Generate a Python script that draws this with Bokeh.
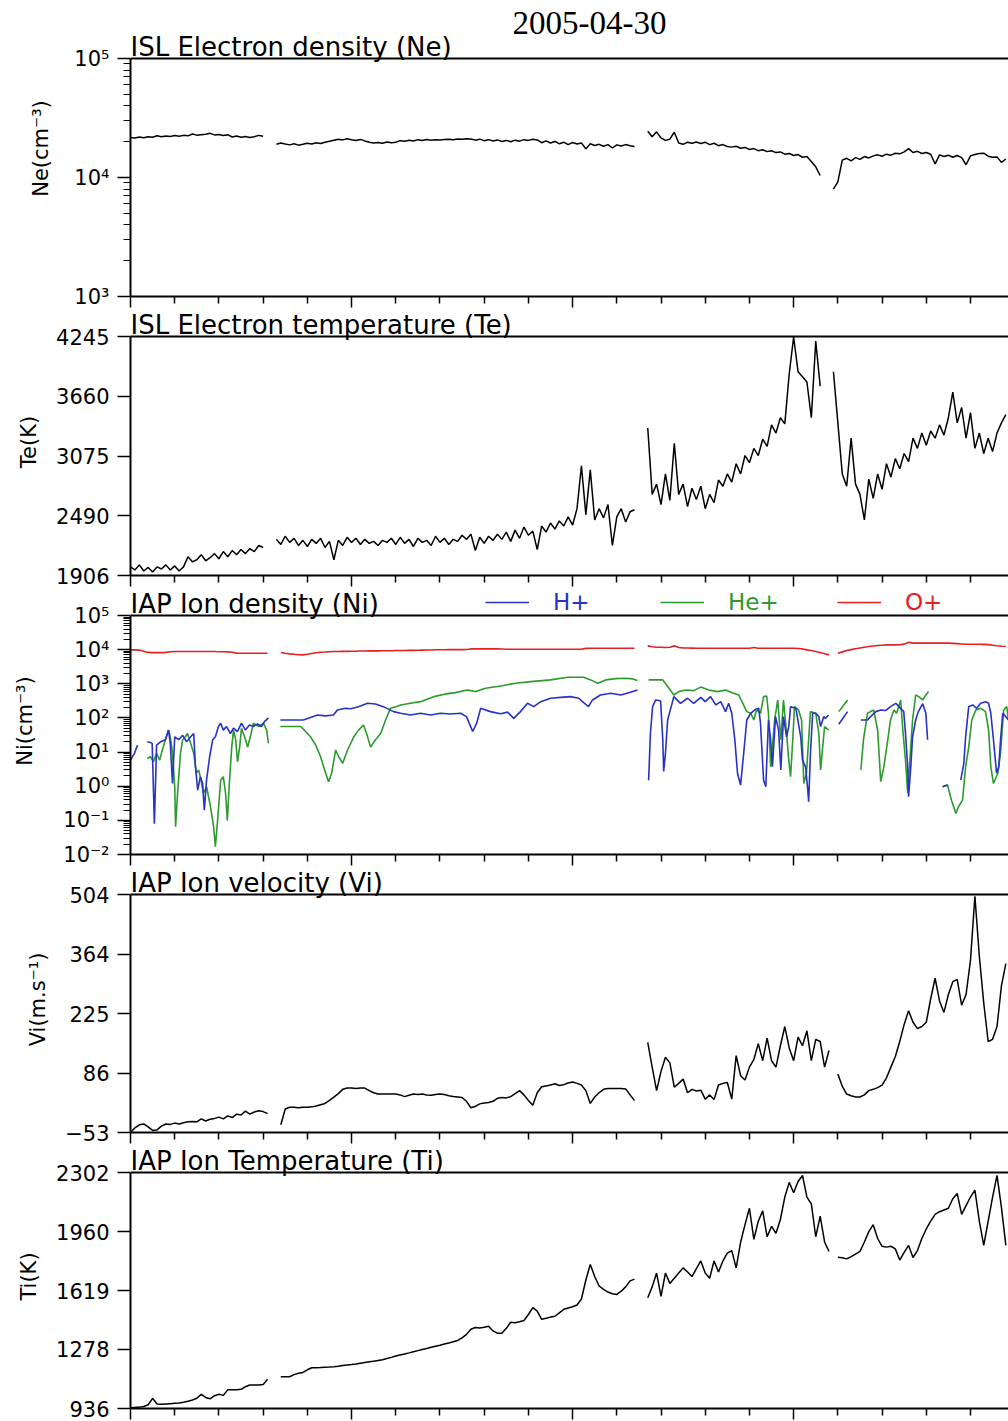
import math
from bokeh.plotting import figure
from bokeh.models import Range1d, FixedTicker, Label, Legend, LegendItem, Span
from bokeh.layouts import column
from bokeh.embed import file_html
from bokeh.resources import INLINE

# ---------------- x axis ----------------
X_END = 19.86
X_MAJOR = [0, 5, 10, 15]
X_MINOR = [1, 2, 3, 4, 6, 7, 8, 9, 11, 12, 13, 14, 16, 17, 18, 19]
GRID_STEP = 0.1

# ---------------- Ne (cm^-3), sampled every 0.1 from each start ----------------
ne_starts = [0.0, 3.3, 11.7, 15.9]
ne_seg1 = [21700, 21500, 21900, 21600, 22000, 21800, 22400, 22000, 22300, 22100,
           22500, 22200, 22600, 22400, 23200, 22700, 22900, 23100, 23500, 22800,
           23000, 22500, 22900, 21900, 22300, 21800, 22100, 21700, 22000, 22600, 22200]
ne_seg2 = [19000, 19500, 19100, 18800, 19200, 18700, 19000, 19400, 19100, 19600,
           19300, 19800, 20200, 20600, 21000, 20700, 21200, 20800, 20500, 20900,
           20300, 19800, 19500, 19700, 19400, 19900, 19600, 19800, 20400, 20200,
           20600, 20300, 20800, 20500, 20900, 20600, 20800, 20700, 20900, 21000,
           20800, 21100, 21000, 21200, 21100, 20600, 21000, 20400, 20800, 20300,
           20700, 20100, 20500, 20000, 20600, 20200, 20800, 20500, 21000, 20700,
           19600, 20300, 19500, 20100, 19200, 19800, 18900, 19700, 19100, 19500,
           17400, 19200, 18600, 19000, 18300, 18900, 17700, 18800, 18400, 18900,
           18500, 18200]
ne_seg3 = [24500, 22000, 24200, 21500, 20500, 21000, 24000, 19500, 19000, 19800,
           19400, 19900, 19300, 19800, 18900, 19400, 18500, 18900, 18200, 18000,
           18300, 17600, 17900, 17200, 17500, 16800, 17100, 16500, 16800, 16200,
           16400, 15700, 15900, 15300, 15600, 14800, 15000, 13600, 12300, 10400]
ne_seg4 = [8000, 9200, 14000, 14500, 13800, 14700, 14200, 15000, 14600, 15200,
           15500, 15100, 15700, 15400, 16000, 15800, 16400, 17500, 16200, 16600,
           15900, 16200, 15700, 13000, 15500, 15000, 15400, 14800, 15300, 14700,
           12800, 15200, 15600, 15900, 16000, 15100, 14800, 14900, 13400, 14300]

# ---------------- Te (K) ----------------
te_starts = [0.0, 3.3, 11.7, 15.9]
te_seg1 = [1990, 1960, 2010, 1950, 1985, 1940, 1990, 1970, 2010, 1960,
           2000, 1950, 1990, 2090, 2040, 2060, 2110, 2050, 2080, 2120,
           2070, 2140, 2090, 2150, 2110, 2160, 2120, 2170, 2140, 2200, 2180]
te_seg2 = [2260, 2210, 2290, 2230, 2270, 2200, 2250, 2190, 2260, 2220,
           2270, 2180, 2240, 2060, 2250, 2200, 2280, 2230, 2270, 2210,
           2260, 2220, 2240, 2200, 2250, 2230, 2270, 2210, 2280, 2220,
           2260, 2190, 2270, 2230, 2250, 2200, 2290, 2230, 2270, 2210,
           2260, 2240, 2300, 2260, 2310, 2150, 2280, 2220, 2290, 2250,
           2310, 2260, 2330, 2240, 2350, 2270, 2380, 2300, 2340, 2160,
           2390, 2330, 2420, 2360, 2440, 2390, 2480, 2400, 2560, 2980,
           2500, 2940, 2450, 2560, 2470, 2600, 2200, 2480, 2560, 2430,
           2530, 2550]
te_seg3 = [3350, 2700, 2800, 2600, 2900, 2640, 3200, 2700, 2800, 2580,
           2760, 2650, 2780, 2560, 2700, 2620, 2840, 2780, 2900, 2820,
           3000, 2900, 3080, 3010, 3150, 3080, 3240, 3170, 3380, 3300,
           3450, 3390, 3880, 4240, 3900, 3850, 3800, 3450, 4200, 3760]
te_seg4 = [3900, 3400, 2900, 2780, 3250, 2800, 2700, 2450, 2850, 2660,
           2900, 2750, 3000, 2870, 3050, 2950, 3100, 3020, 3250, 3150,
           3300, 3180, 3320, 3250, 3380, 3280, 3450, 3700, 3400, 3550,
           3250, 3500, 3150, 3300, 3100, 3250, 3120, 3300, 3400, 3480]

# ---------------- O+ density (cm^-3) ----------------
op_starts = [0.0, 3.4, 11.7, 16.0]
op_seg1 = [9840, 9840, 9700, 9000, 8300, 8200, 8200, 8200, 8300, 8700,
           8800, 8800, 8800, 8800, 8800, 8800, 8800, 8800, 8800, 8800,
           8700, 8700, 8600, 8400, 7900, 7860, 7860, 7860, 7860, 7860, 7860, 7860]
op_seg2 = [8200, 7800, 7500, 7300, 7100, 7030, 7300, 7700, 8100, 8400,
           8500, 8700, 8800, 8800, 8900, 8900, 9000, 9000, 9100, 9100,
           9200, 9200, 9200, 9300, 9300, 9300, 9400, 9400, 9400, 9500,
           9500, 9600, 9700, 9800, 9800, 9900, 9900, 9900, 10000, 10000,
           10000, 10000, 10100, 10500, 10500, 10500, 10500, 10500, 10500, 10500,
           10400, 10300, 10300, 10300, 10300, 10300, 10300, 10300, 10300, 10300,
           10300, 10300, 10300, 10300, 10300, 10300, 10300, 10300, 10300, 10900,
           11000, 11000, 11000, 11000, 11000, 11000, 11000, 11000, 11000, 11000,
           11000]
op_seg3 = [12900, 12200, 11800, 11700, 11500, 11700, 12900, 11500, 11300, 11200,
           11100, 11000, 11000, 11000, 11000, 11000, 11000, 11000, 11000, 11000,
           11000, 11000, 11000, 11000, 11500, 11000, 11000, 11000, 11000, 11000,
           11000, 11000, 11000, 11000, 10800, 10500, 9840, 9400, 8800, 8200,
           7600, 7030]
op_seg4 = [7860, 8600, 9400, 10000, 10600, 11200, 11800, 12300, 12800, 13200,
           13500, 13800, 13800, 13800, 13900, 14500, 16500, 15500, 15500, 15500,
           15500, 15500, 15500, 15500, 15500, 15500, 15300, 15000, 14700, 14400,
           14400, 14400, 14400, 14300, 14000, 13500, 13000, 12600, 12300]

# ---------------- H+ density (x, value); None separates data gaps ----------------
hp_x = [0.0, 0.09, 0.16, None,
        0.38, 0.45, 0.49, 0.54, 0.59, 0.68, 0.79, 0.86, 0.90, 0.95,
        1.0, 1.09, 1.18, 1.27, 1.36, 1.43, 1.47, 1.52, 1.58, 1.63,
        1.67, 1.72, 1.79, 1.86, 1.92, 1.99, 2.04, 2.1, 2.17, 2.26,
        2.33, 2.42, 2.51, 2.6, 2.69, 2.78, 2.87, 2.96, 3.03, 3.12, None,
        3.39, 3.62, 3.91, 4.07, 4.23, 4.41, 4.59, 4.68, 4.86, 4.98,
        5.16, 5.36, 5.54, 5.72, 5.95, 6.11, 6.33, 6.56, 6.79, 7.01,
        7.24, 7.47, 7.6, 7.74, 7.83, 7.92, 8.14, 8.37, 8.53, 8.67,
        8.82, 8.98, 9.12, 9.28, 9.5, 9.73, 9.95, 10.14, 10.25, 10.36,
        10.45, 10.63, 10.86, 11.09, 11.27, 11.47, None,
        11.72, 11.76, 11.81, 11.88, 11.99, 12.04, 12.06, 12.1, 12.15, 12.29,
        12.44, 12.6, 12.74, 12.9, 13.0, 13.12, 13.24, 13.35, 13.46, 13.53,
        13.6, 13.67, 13.73, 13.8, 13.87, 13.94, 14.03, 14.14, 14.21, 14.25,
        14.32, 14.37, 14.43, 14.48, 14.52, 14.59, 14.66, 14.71, 14.77, 14.84,
        14.89, 14.93, 15.05, 15.16, 15.2, 15.27, 15.32, 15.34, 15.38, 15.43,
        15.5, 15.57, 15.61, 15.68, 15.72, 15.79, None,
        16.02, 16.22, None,
        16.52, 16.67, 16.74, 16.86, 16.97, 17.08, 17.19, 17.31, 17.42, 17.49,
        17.53, 17.58, 17.6, 17.65, 17.69, 17.76, 17.82, 17.92, 17.99, 18.03, None,
        18.37, 18.48, None,
        18.78, 18.85, 18.89, 18.96, 19.05, 19.14, 19.23, 19.34, 19.41, 19.46,
        19.52, 19.59, 19.64, 19.68, 19.73, 19.8, 19.86]
hp_v = [5.8, 9.2, 16, None,
        20, 19, 18, 0.08, 16, 20, 23, 44, 18, 1.2,
        28, 23, 31, 20, 28, 35, 3.7, 0.77, 1.9, 1.2,
        0.2, 1.5, 7.3, 23, 28, 56, 70, 44, 56, 35,
        50, 40, 70, 44, 62, 56, 67, 56, 78, 100, None,
        87, 87, 87, 103, 122, 115, 122, 171, 191, 185,
        214, 268, 255, 214, 153, 137, 122, 137, 122, 137,
        130, 137, 109, 40, 70, 191, 153, 132, 148, 97,
        153, 268, 214, 300, 377, 400, 420, 377, 280, 214,
        336, 470, 530, 470, 550, 660, None,
        1.5, 35, 214, 336, 320, 23, 2.7, 9.2, 87, 420,
        268, 377, 268, 400, 300, 420, 240, 300, 153, 268,
        137, 23, 2.4, 1.08, 9.2, 87, 137, 180, 191, 70,
        1.5, 0.97, 87, 23, 3.7, 109, 44, 3.0, 109, 28,
        56, 214, 191, 28, 5.8, 3.7, 0.77, 0.35, 9.2, 137,
        137, 109, 56, 109, 97, 122, None,
        65, 153, None,
        87, 87, 109, 153, 171, 165, 214, 268, 191, 153,
        35, 3.7, 0.49, 3.7, 28, 87, 153, 260, 137, 23, None,
        0.97, 1.08, None,
        1.5, 4.7, 28, 214, 240, 191, 268, 300, 268, 137,
        23, 2.4, 3.7, 23, 137, 109, 87]

# ---------------- He+ density ----------------
hep_x = [0.38, 0.45, 0.52, 0.59, 0.66, 0.72, 0.79, 0.86, 0.9, 0.95,
         1.0, 1.02, 1.06, 1.13, 1.18, 1.24, 1.29, 1.36, 1.43, 1.49,
         1.54, 1.58, 1.65, 1.72, 1.81, 1.88, 1.92, 1.97, 2.04, 2.1,
         2.15, 2.19, 2.24, 2.29, 2.33, 2.38, 2.42, 2.47, 2.51, 2.58,
         2.65, 2.71, 2.78, 2.9, 3.01, 3.08, 3.12, None,
         3.39, 3.62, 3.85, 3.96, 4.07, 4.19, 4.3, 4.39, 4.48, 4.55,
         4.64, 4.71, 4.8, 4.91, 5.05, 5.16, 5.27, 5.34, 5.43, 5.54,
         5.66, 5.77, 5.88, 6.0, 6.11, 6.33, 6.56, 6.86, 7.13, 7.35,
         7.62, 7.81, 8.03, 8.37, 8.71, 9.05, 9.5, 9.89, 10.25, 10.41,
         10.57, 10.75, 10.97, 11.2, 11.36, 11.47, None,
         11.72, 11.88, 12.04, 12.15, 12.29, 12.4, 12.56, 12.74, 12.9, 13.08,
         13.28, 13.46, 13.64, 13.76, 13.85, 13.94, 14.03, 14.1, 14.16, 14.25,
         14.32, 14.39, 14.43, 14.48, 14.52, 14.57, 14.64, 14.71, 14.77, 14.84,
         14.89, 14.93, 14.98, 15.02, 15.11, 15.18, 15.23, 15.29, 15.38, 15.5,
         15.57, 15.61, 15.7, 15.79, None,
         16.02, 16.22, None,
         16.52, 16.58, 16.67, 16.81, 16.9, 16.97, 17.04, 17.13, 17.19, 17.27,
         17.33, 17.42, 17.47, 17.53, 17.58, 17.65, 17.69, 17.76, 17.83, 17.92,
         17.99, 18.05, None,
         18.37, 18.48, 18.57, 18.67, 18.73, 18.82, 18.89, 18.96, 19.03, 19.12,
         19.23, 19.34, 19.41, 19.46, 19.52, 19.62, 19.68, 19.75, 19.82, 19.86]
hep_v = [6.5, 7.3, 5.2, 9.2, 5.8, 11.5, 23, 44, 28, 9.2,
         0.97, 0.065, 0.49, 9.2, 23, 28, 35, 18, 9.2, 2.4,
         3.0, 1.9, 0.62, 0.97, 0.25, 0.065, 0.017, 0.1, 1.5, 1.9,
         0.62, 0.1, 1.5, 14, 44, 23, 5.2, 14, 50, 28,
         14, 28, 70, 56, 70, 44, 18, None,
         56, 56, 56, 40, 28, 16, 7.3, 3.0, 1.36, 2.4,
         11.5, 7.3, 4.7, 11.5, 28, 44, 62, 35, 14, 23,
         35, 87, 191, 214, 240, 268, 300, 420, 505, 550,
         660, 590, 740, 860, 1040, 1160, 1300, 1560, 1560, 1300,
         1040, 1300, 1420, 1450, 1390, 1250, None,
         1300, 1300, 1300, 830, 470, 590, 660, 630, 800, 660,
         590, 660, 530, 470, 268, 153, 137, 87, 171, 137,
         420, 440, 137, 3.7, 14, 87, 336, 23, 336, 35,
         5.8, 1.9, 23, 214, 171, 87, 1.2, 2.4, 153, 137,
         35, 3.0, 56, 44, None,
         153, 336, None,
         3.0, 23, 137, 171, 44, 1.36, 3.7, 23, 87, 171,
         137, 336, 44, 5.8, 0.62, 14, 87, 470, 420, 336,
         470, 590, None,
         0.97, 1.08, 0.39, 0.16, 0.25, 0.39, 3.7, 14, 87, 171,
         191, 153, 44, 3.7, 1.2, 2.4, 9.2, 171, 214, 87]

# ---------------- Vi (m/s) ----------------
vi_starts = [0.0, 3.4, 11.7, 16.0]
vi_seg1 = [-53, -42, -35, -33, -40, -48, -47, -38, -33, -34,
           -31, -33, -30, -28, -27, -28, -21, -26, -22, -20,
           -17, -21, -14, -18, -10, -12, -3, -10, -5, -2, -4, -9]
vi_seg2 = [-35, 2, 6, 6, 5, 6, 6, 7, 9, 12,
           15, 22, 30, 38, 48, 51, 51, 50, 51, 51,
           45, 40, 37, 37, 37, 37, 37, 35, 31, 34,
           37, 36, 37, 35, 34, 36, 37, 36, 33, 31,
           30, 29, 20, 5, 8, 14, 16, 17, 20, 27,
           29, 28, 31, 38, 45, 35, 22, 11, 40, 54,
           56, 58, 61, 57, 59, 63, 65, 62, 58, 45,
           15, 30, 40, 48, 50, 50, 50, 50, 49, 35,
           22]
vi_seg3 = [158, 100, 45, 90, 123, 110, 53, 62, 72, 40,
           48, 44, 46, 25, 35, 24, 58, 62, 64, 25,
           127, 80, 70, 100, 118, 155, 115, 168, 115, 100,
           150, 195, 145, 115, 170, 150, 185, 115, 165, 160,
           100, 139]
vi_seg4 = [84, 55, 37, 33, 30, 30, 35, 45, 48, 52,
           58, 75, 100, 125, 160, 200, 232, 205, 190, 195,
           205, 260, 308, 255, 228, 270, 300, 305, 245, 270,
           350, 500, 360, 250, 160, 165, 195, 290, 342]

# ---------------- Ti (K) ----------------
ti_starts = [0.0, 3.4, 11.7, 16.0]
ti_seg1 = [940, 942, 944, 948, 958, 995, 962, 960, 962, 964,
           966, 968, 972, 978, 985, 995, 1018, 1000, 992, 1010,
           1018, 1012, 1045, 1045, 1045, 1047, 1062, 1072, 1072, 1072, 1075, 1105]
ti_seg2 = [1120, 1120, 1120, 1132, 1140, 1145, 1160, 1172, 1172, 1173,
           1175, 1176, 1178, 1181, 1185, 1188, 1190, 1193, 1198, 1202,
           1206, 1210, 1214, 1218, 1225, 1232, 1240, 1246, 1252, 1258,
           1265, 1271, 1277, 1283, 1290, 1296, 1302, 1309, 1315, 1322,
           1330, 1345, 1365, 1395, 1405, 1402, 1406, 1412, 1385, 1372,
           1372, 1400, 1435, 1432, 1438, 1445, 1480, 1520, 1500, 1452,
           1458, 1465, 1470, 1490, 1510, 1518, 1525, 1535, 1570, 1680,
           1770, 1700, 1645, 1625, 1610, 1600, 1596, 1615, 1640, 1675,
           1685]
ti_seg3 = [1577, 1640, 1720, 1585, 1720, 1660, 1690, 1720, 1750, 1726,
           1700, 1745, 1790, 1720, 1690, 1790, 1726, 1790, 1835, 1850,
           1750, 1898, 2000, 2095, 1915, 2020, 2080, 1930, 1990, 1950,
           2030, 2160, 2245, 2185, 2250, 2285, 2160, 2120, 1930, 2050,
           1900, 1845]
ti_seg4 = [1812, 1808, 1802, 1815, 1830, 1845, 1900, 1960, 2000, 1920,
           1875, 1870, 1875, 1860, 1795, 1840, 1880, 1810, 1850, 1920,
           1975, 2020, 2060, 2075, 2085, 2095, 2150, 2180, 2060, 2110,
           2160, 2200, 2020, 1880, 2020, 2160, 2285, 2100, 1880]

# ---------------- axis ticks / labels ----------------
ne_ticks = [1e3, 1e4, 1e5]
ne_labels = ["10³", "10⁴", "10⁵"]
te_ticks = [1906, 2490, 3075, 3660, 4245]
te_labels = ["1906", "2490", "3075", "3660", "4245"]
ni_ticks = [1e-2, 1e-1, 1e0, 1e1, 1e2, 1e3, 1e4, 1e5]
ni_labels = ["10⁻²", "10⁻¹", "10⁰", "10¹", "10²", "10³", "10⁴", "10⁵"]
vi_ticks = [-53, 86, 225, 364, 504]
vi_labels = ["−53", "86", "225", "364", "504"]
ti_ticks = [936, 1278, 1619, 1960, 2302]
ti_labels = ["936", "1278", "1619", "1960", "2302"]

# ---------------- helpers ----------------
FONT = "DejaVu Sans"
BLACK = "#000000"
C_H = "#2832c8"
C_HE = "#2c9a2c"
C_O = "#e52020"


def grid_segments(starts, segs):
    out = []
    for s, seg in zip(starts, segs):
        xs = [round(s + GRID_STEP * k, 3) for k in range(len(seg))]
        out.append((xs, list(seg)))
    return out


def pair_segments(xs, vs):
    out, cx, cv = [], [], []
    for x, v in zip(xs, vs):
        if x is None or v is None:
            if cx:
                out.append((cx, cv))
            cx, cv = [], []
        else:
            cx.append(x)
            cv.append(v)
    if cx:
        out.append((cx, cv))
    return out


def log_minor(lo_exp, hi_exp):
    return [k * 10.0 ** e for e in range(lo_exp, hi_exp) for k in range(2, 10)]


def make_panel(height, band, extra, bottom, lo, hi, log, ticks, labels, minor,
               ylabel, title, label_standoff=12):
    # frame = data band plus 'extra' pixels above it (room for titles), axis bounded to the band
    if log:
        a, b = math.log10(lo), math.log10(hi)
        end = 10 ** (b + (b - a) * extra / band)
    else:
        end = hi + (hi - lo) * extra / band
    p = figure(width=1008, height=height, x_range=Range1d(0, X_END), y_range=Range1d(lo, end),
               y_axis_type="log" if log else "linear", title=None,
               output_backend="svg", toolbar_location=None,
               min_border_left=130, min_border_right=0,
               min_border_top=0, min_border_bottom=bottom)
    p.outline_line_color = None
    p.xgrid.visible = False
    p.ygrid.visible = False
    p.background_fill_color = "white"
    p.border_fill_color = "white"

    xa = p.xaxis[0]
    xa.ticker = FixedTicker(ticks=X_MAJOR, minor_ticks=X_MINOR)
    xa.major_label_text_font_size = "1px"
    xa.major_label_text_color = None
    xa.major_label_standoff = 0
    xa.major_tick_in = 0
    xa.major_tick_out = 11
    xa.minor_tick_in = 0
    xa.minor_tick_out = 7
    xa.axis_line_width = 2
    xa.major_tick_line_width = 1.5
    xa.minor_tick_line_width = 1.5
    xa.axis_line_color = BLACK

    ya = p.yaxis[0]
    ya.bounds = (lo, hi)
    ya.ticker = FixedTicker(ticks=ticks, minor_ticks=minor)
    ya.major_label_overrides = dict(zip(ticks, labels))
    ya.major_label_text_font = FONT
    ya.major_label_text_font_size = "21px"
    ya.major_label_text_color = BLACK
    ya.major_label_standoff = 8
    ya.major_tick_in = 0
    ya.major_tick_out = 13
    ya.minor_tick_in = 0
    ya.minor_tick_out = 7
    ya.axis_line_width = 2
    ya.major_tick_line_width = 1.5
    ya.minor_tick_line_width = 1.2
    ya.axis_label = ylabel
    ya.axis_label_text_font = FONT
    ya.axis_label_text_font_size = "21px"
    ya.axis_label_text_font_style = "normal"
    ya.axis_label_text_color = BLACK
    ya.axis_label_standoff = label_standoff

    # panel top border
    p.add_layout(Span(location=hi, dimension="width", line_color=BLACK, line_width=2))
    # panel title just above the top border
    p.add_layout(Label(x=0, y=band + 12, x_units="screen", y_units="screen",
                       text=title, text_font=FONT, text_font_size="26px",
                       text_color=BLACK, text_baseline="middle", text_align="left"))
    return p


# ---------------- panel 1: Ne ----------------
p1 = make_panel(308, 238, 58, 12, 1e3, 1e5, True, ne_ticks, ne_labels,
                log_minor(3, 5), "Ne(cm⁻³)", "ISL Electron density (Ne)", label_standoff=18)
for xs, ys in grid_segments(ne_starts, [ne_seg1, ne_seg2, ne_seg3, ne_seg4]):
    p1.line(xs, ys, line_color=BLACK, line_width=1.5)
p1.add_layout(Label(x=382, y=274, x_units="screen", y_units="screen",
                    text="2005-04-30", text_font="Liberation Serif", text_font_size="33px",
                    text_color=BLACK, text_baseline="middle", text_align="left"))

# ---------------- panel 2: Te ----------------
p2 = make_panel(279, 239, 28, 12, 1906, 4245, False, te_ticks, te_labels,
                [], "Te(K)", "ISL Electron temperature (Te)")
for xs, ys in grid_segments(te_starts, [te_seg1, te_seg2, te_seg3, te_seg4]):
    p2.line(xs, ys, line_color=BLACK, line_width=1.5)

# ---------------- panel 3: Ni ----------------
p3 = make_panel(279, 239, 28, 12, 1e-2, 1e5, True, ni_ticks, ni_labels,
                log_minor(-2, 5), "Ni(cm⁻³)", "IAP Ion density (Ni)", label_standoff=23)
r_o = None
for xs, ys in grid_segments(op_starts, [op_seg1, op_seg2, op_seg3, op_seg4]):
    r = p3.line(xs, ys, line_color=C_O, line_width=1.6)
    r_o = r_o or r
r_he = None
for xs, ys in pair_segments(hep_x, hep_v):
    r = p3.line(xs, ys, line_color=C_HE, line_width=1.6)
    r_he = r_he or r
r_h = None
for xs, ys in pair_segments(hp_x, hp_v):
    r = p3.line(xs, ys, line_color=C_H, line_width=1.6)
    r_h = r_h or r

for lbl, rend, col, lx in [("H+", r_h, C_H, 355), ("He+", r_he, C_HE, 530), ("O+", r_o, C_O, 707)]:
    lg = Legend(items=[LegendItem(label=lbl, renderers=[rend])], location=(lx, 239),
                orientation="horizontal", glyph_width=44, glyph_height=20, label_standoff=24,
                label_height=20, padding=0, margin=0, border_line_color=None,
                background_fill_alpha=0, label_text_color=col, label_text_font=FONT,
                label_text_font_size="23px")
    p3.add_layout(lg)

# ---------------- panel 4: Vi ----------------
p4 = make_panel(278, 238, 28, 12, -53, 504, False, vi_ticks, vi_labels,
                [], "Vi(m.s⁻¹)", "IAP Ion velocity (Vi)")
for xs, ys in grid_segments(vi_starts, [vi_seg1, vi_seg2, vi_seg3, vi_seg4]):
    p4.line(xs, ys, line_color=BLACK, line_width=1.5)

# ---------------- panel 5: Ti ----------------
p5 = make_panel(277, 236, 28, 13, 936, 2302, False, ti_ticks, ti_labels,
                [], "Ti(K)", "IAP Ion Temperature (Ti)")
for xs, ys in grid_segments(ti_starts, [ti_seg1, ti_seg2, ti_seg3, ti_seg4]):
    p5.line(xs, ys, line_color=BLACK, line_width=1.5)

layout = column(p1, p2, p3, p4, p5)
open("out.html", "w").write(file_html(layout, INLINE))
